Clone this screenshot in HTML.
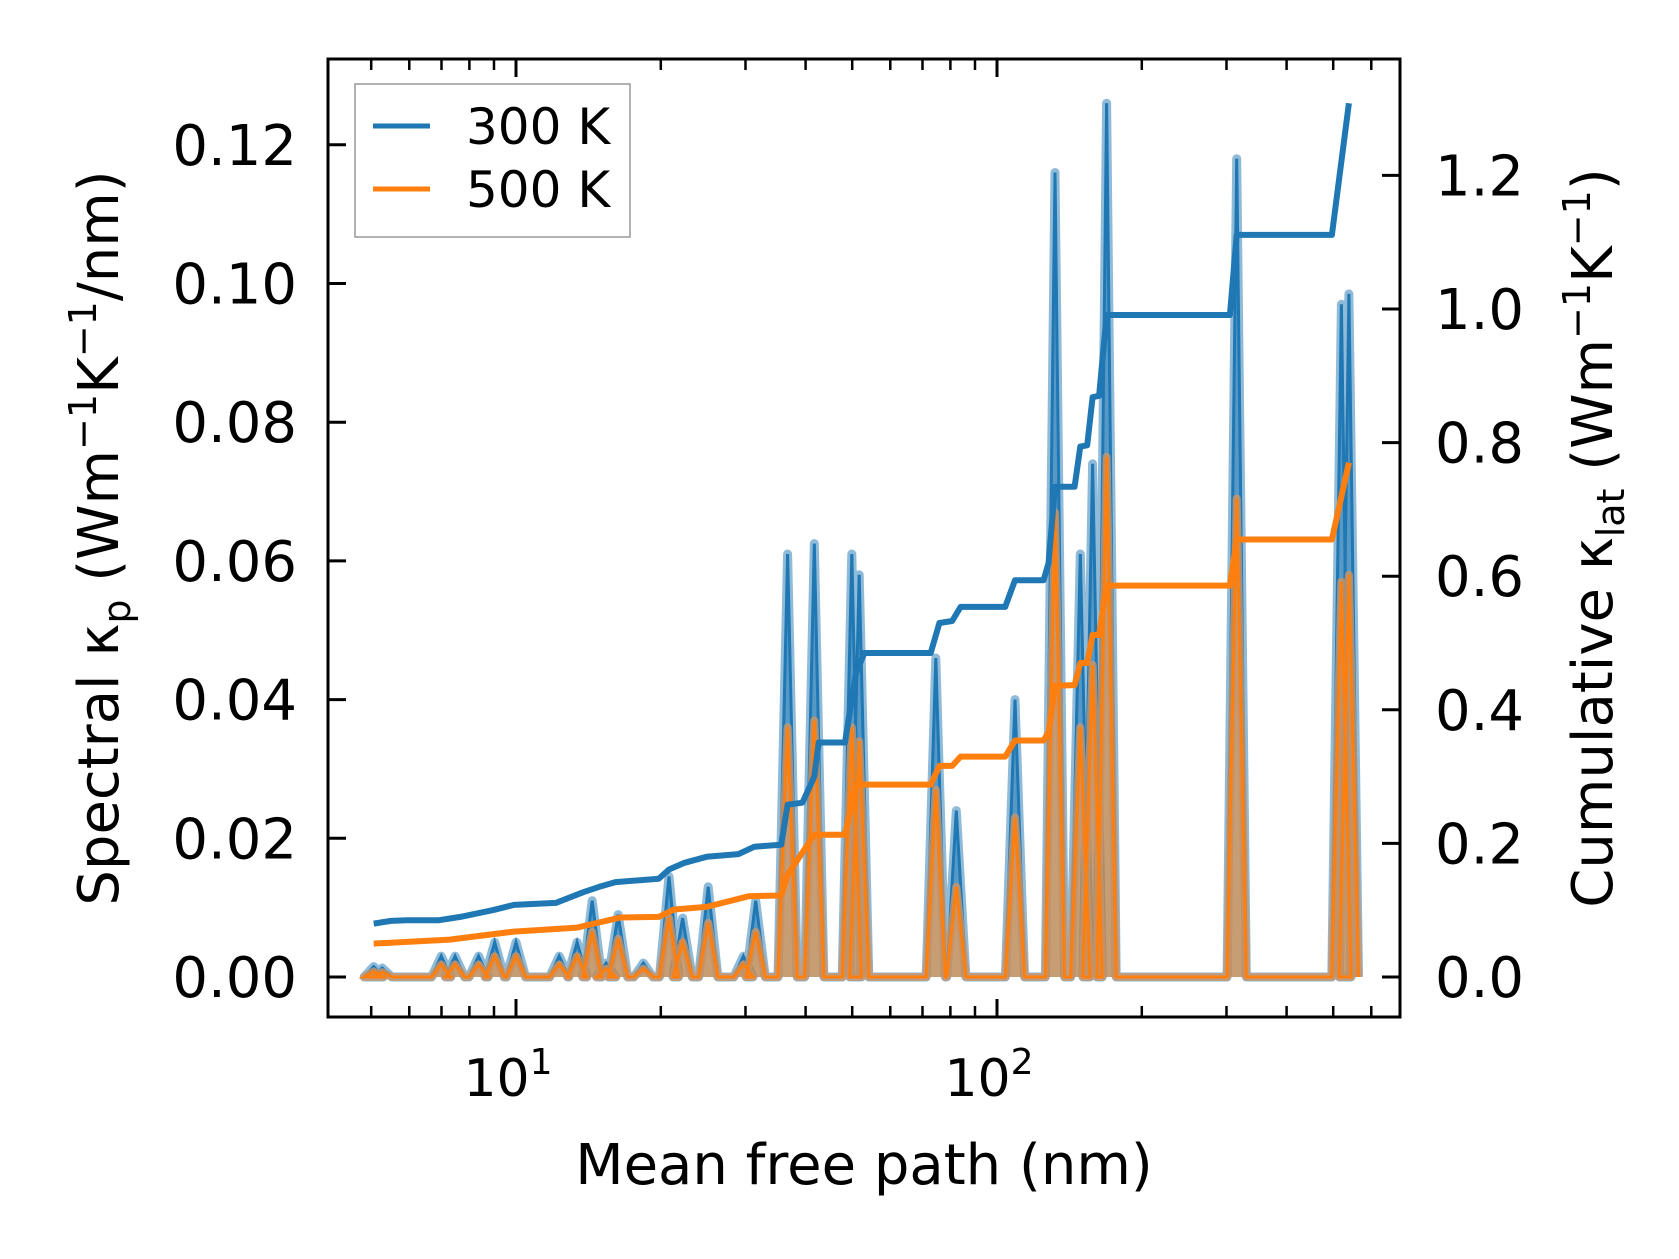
<!DOCTYPE html>
<html><head><meta charset="utf-8"><style>
body{margin:0;background:#fff}
svg text{font-family:"DejaVu Sans","Liberation Sans",sans-serif;fill:#000}
</style></head><body>
<svg id="chart" width="1679" height="1254" viewBox="0 0 1679 1254" xmlns="http://www.w3.org/2000/svg">
<g id="marks"></g>
<g id="axes"></g>
<g>
<rect x="355" y="84" width="275" height="153" fill="#fff" stroke="#999" stroke-width="1.5"/>
<line x1="373" y1="126" x2="430" y2="126" stroke="#1f77b4" stroke-width="5"/>
<text x="466" y="144" font-size="50">300 K</text>
<line x1="373" y1="189" x2="430" y2="189" stroke="#ff7f0e" stroke-width="5"/>
<text x="466" y="207" font-size="50">500 K</text>
</g>
<text x="864" y="1184" font-size="56" text-anchor="middle">Mean free path (nm)</text>
<text transform="translate(118,538) rotate(-90)" font-size="56" text-anchor="middle">Spectral κ<tspan font-size="38" dy="12">p</tspan><tspan dy="-12"> (Wm</tspan><tspan font-size="38" dy="-22">−1</tspan><tspan dy="22">K</tspan><tspan font-size="38" dy="-22">−1</tspan><tspan dy="22">/nm)</tspan></text>
<text transform="translate(1612,538) rotate(-90)" font-size="56" text-anchor="middle">Cumulative κ<tspan font-size="38" dy="12">lat</tspan><tspan dy="-12"> (Wm</tspan><tspan font-size="38" dy="-22">−1</tspan><tspan dy="22">K</tspan><tspan font-size="38" dy="-22">−1</tspan><tspan dy="22">)</tspan></text>
</svg>
<script>
const spikeMfp=[5.06,5.27,6.99,7.47,8.36,9.03,10.0,12.3,13.4,14.4,15.4,16.3,18.4,20.8,22.2,25.1,29.7,31.5,36.7,41.7,49.9,51.7,74.6,82.3,109,132,149,158,169,315,520,539];
const spike300=[0.0015,0.0013,0.003,0.003,0.003,0.005,0.005,0.003,0.005,0.011,0.002,0.009,0.002,0.0145,0.0085,0.013,0.003,0.011,0.061,0.0625,0.061,0.058,0.046,0.024,0.040,0.116,0.061,0.074,0.126,0.118,0.097,0.0985];
const spike500=[0.0008,0.0007,0.0018,0.0018,0.0018,0.003,0.003,0.0018,0.003,0.0065,0.0012,0.0055,0.0012,0.0085,0.005,0.0078,0.0018,0.0065,0.036,0.037,0.036,0.034,0.027,0.013,0.023,0.067,0.036,0.045,0.075,0.069,0.057,0.058];
const cum300Mfp=[5.06,5.5,5.93,6.92,7.66,8.94,9.90,12.1,13.8,14.9,16.1,19.8,20.8,22.4,24.9,29.0,31.3,35.6,36.7,39.4,41.7,42.6,48.3,50.9,53,69.2,72.8,75.9,80.7,84.0,104,109,125,128,132,145,149,154,158,163,169,305,315,497,539];
const cum300=[0.080,0.084,0.085,0.085,0.090,0.100,0.108,0.111,0.127,0.135,0.142,0.147,0.161,0.171,0.180,0.184,0.195,0.198,0.258,0.261,0.300,0.351,0.351,0.455,0.485,0.485,0.485,0.530,0.533,0.554,0.554,0.594,0.594,0.620,0.734,0.734,0.794,0.796,0.868,0.870,0.991,0.991,1.111,1.111,1.308];
const cum500Mfp=[5.06,7.28,9.90,13.4,16.5,19.8,21.3,24.9,30.5,35.6,36.7,41.7,48.3,50.9,72.8,75.9,80.7,84.0,104,109,125,128,132,145,149,154,158,163,169,305,315,497,539];
const cum500=[0.050,0.056,0.068,0.074,0.089,0.090,0.101,0.105,0.121,0.122,0.153,0.213,0.213,0.288,0.288,0.316,0.316,0.330,0.330,0.354,0.354,0.367,0.436,0.437,0.470,0.470,0.512,0.512,0.586,0.586,0.655,0.655,0.770];
const leftTicks=[0,0.02,0.04,0.06,0.08,0.10,0.12];
const leftTickLabels=["0.00","0.02","0.04","0.06","0.08","0.10","0.12"];
const rightTicks=[0,0.2,0.4,0.6,0.8,1.0,1.2];
const rightTickLabels=["0.0","0.2","0.4","0.6","0.8","1.0","1.2"];

const L=328,R=1400,T=59,B=1017;
const X=v=>516+(Math.log10(v)-1)*481;
const YL=v=>977-v/0.02*138.7;
const YR=v=>977-v/0.2*133.6;
const NS='http://www.w3.org/2000/svg';
const marks=document.getElementById('marks'),axes=document.getElementById('axes');
function mk(tag,attrs,parent){const e=document.createElementNS(NS,tag);for(const k in attrs)e.setAttribute(k,attrs[k]);parent.appendChild(e);return e;}

function spectralPath(vals){
  const hw=0.02;
  let d='M'+X(spikeMfp[0]).toFixed(1)+','+YL(0);
  for(let i=0;i<spikeMfp.length;i++){
    const lx=Math.log10(spikeMfp[i]);
    d+=' L'+X(Math.pow(10,lx-hw)).toFixed(1)+','+YL(0).toFixed(1);
    d+=' L'+X(spikeMfp[i]).toFixed(1)+','+YL(vals[i]).toFixed(1);
    d+=' L'+X(Math.pow(10,lx+hw)).toFixed(1)+','+YL(0).toFixed(1);
  }
  return d;
}
const p3=mk('path',{d:spectralPath(spike300),fill:'#1f77b4','fill-opacity':0.5,stroke:'#1f77b4','stroke-opacity':0.5,'stroke-width':9,'stroke-linejoin':'round'},marks);


const p3l=mk('path',{d:spectralPath(spike300),fill:'none',stroke:'#1f77b4','stroke-width':3},marks);


const p5=mk('path',{d:spectralPath(spike500),fill:'#ff7f0e','fill-opacity':0.5,stroke:'#c8956a','stroke-opacity':0.8,'stroke-width':8,'stroke-linejoin':'round'},marks);


const p5l=mk('path',{d:spectralPath(spike500),fill:'none',stroke:'#ff7f0e','stroke-width':3},marks);



function linePath(xs,ys){return xs.map((x,i)=>(i?'L':'M')+X(x).toFixed(1)+','+YR(ys[i]).toFixed(1)).join(' ');}
const c3=mk('path',{d:linePath(cum300Mfp,cum300),fill:'none',stroke:'#1f77b4','stroke-width':6,'stroke-linejoin':'round'},marks);


const c5=mk('path',{d:linePath(cum500Mfp,cum500),fill:'none',stroke:'#ff7f0e','stroke-width':6,'stroke-linejoin':'round'},marks);



const frame=mk('rect',{x:L,y:T,width:R-L,height:B-T,fill:'none',stroke:'#000','stroke-width':3},axes);



leftTicks.forEach((v,i)=>{
  const t=mk('line',{x1:L,x2:L+18,y1:YL(v),y2:YL(v),stroke:'#000','stroke-width':3},axes);
  
  
  const tx=mk('text',{x:297,y:YL(v)+20,'font-size':56,'text-anchor':'end'},axes);
  tx.textContent=leftTickLabels[i];
  
  
});
rightTicks.forEach((v,i)=>{
  const t=mk('line',{x1:R-18,x2:R,y1:YR(v),y2:YR(v),stroke:'#000','stroke-width':3},axes);
  
  
  const tx=mk('text',{x:1435,y:YR(v)+20,'font-size':56},axes);
  tx.textContent=rightTickLabels[i];
  
  
});
[1,10,100].forEach(dec=>{
  for(let m=1;m<10;m++){
    const v=dec*m, x=X(v);
    if(x<L+2||x>R-2)continue;
    const len=m===1?18:11;
    [[B,B-len],[T,T+len]].forEach(([a,b])=>{
      const t=mk('line',{x1:x,x2:x,y1:a,y2:b,stroke:'#000','stroke-width':m===1?3:2.5},axes);
      
      
    });
    if(m===1){
      const tx=mk('text',{x:x-8,y:1096,'font-size':52,'text-anchor':'middle'},axes);
      tx.innerHTML='10<tspan font-size="36" dy="-22">'+Math.round(Math.log10(v))+'</tspan>';
      
      
    }
  }
});
</script>
</body></html>
